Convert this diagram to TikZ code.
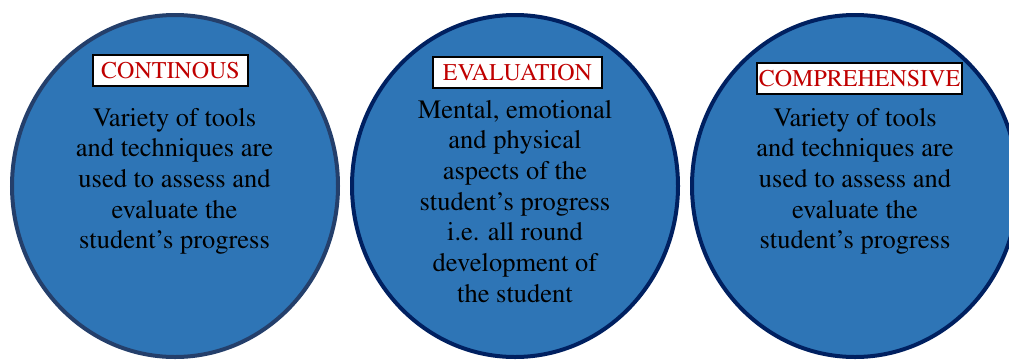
\documentclass[tikz,border=0pt]{standalone}
\usepackage[T1]{fontenc}
\renewcommand{\rmdefault}{ptm}
\usetikzlibrary{shapes.geometric}
\definecolor{circfill}{HTML}{2E75B6}
\definecolor{navyline}{HTML}{002060}
\definecolor{slateline}{HTML}{243F6B}
\definecolor{labelred}{HTML}{C00000}
\begin{document}
\begin{tikzpicture}[x=1pt,y=-1pt,
  circ/.style={ellipse, fill=circfill, draw=navyline, line width=4pt, minimum width=326pt, minimum height=342pt, inner sep=0pt},
  tag/.style={rectangle, fill=white, draw=black, line width=1.2pt, text=labelred, font=\fontsize{24}{26}\selectfont, inner sep=0pt, minimum height=31pt},
  body/.style={align=center, anchor=north, inner sep=0pt, font=\fontsize{26.5}{30.7}\selectfont}]
\useasboundingbox (0,0) rectangle (1009,360);
% the three circles
\node [circ, draw=slateline] (cont) at (175,186) {};
\node [circ] (eval) at (515,186) {};
\node [circ] (comp) at (855,186) {};
% headings
\node [tag, minimum width=155pt] (conttag) at (170.5,70.5) {CONTINOUS};
\node [tag, minimum width=169pt] (evaltag) at (517.5,72.5) {EVALUATION};
\node [tag, minimum width=205pt] (comptag) at (859.5,78.5) {COMPREHENSIVE};
% texts
\node [body] (conttext) at (174.5,108) {Variety of tools\\and techniques are\\used to assess and\\evaluate the\\student's progress};
\node [body] (evaltext) at (515,100) {Mental, emotional\\and physical\\aspects of the\\student's progress\\i.e. all round\\development of\\the student};
\node [body] (comptext) at (855,108) {Variety of tools\\and techniques are\\used to assess and\\evaluate the\\student's progress};
\end{tikzpicture}
\end{document}
